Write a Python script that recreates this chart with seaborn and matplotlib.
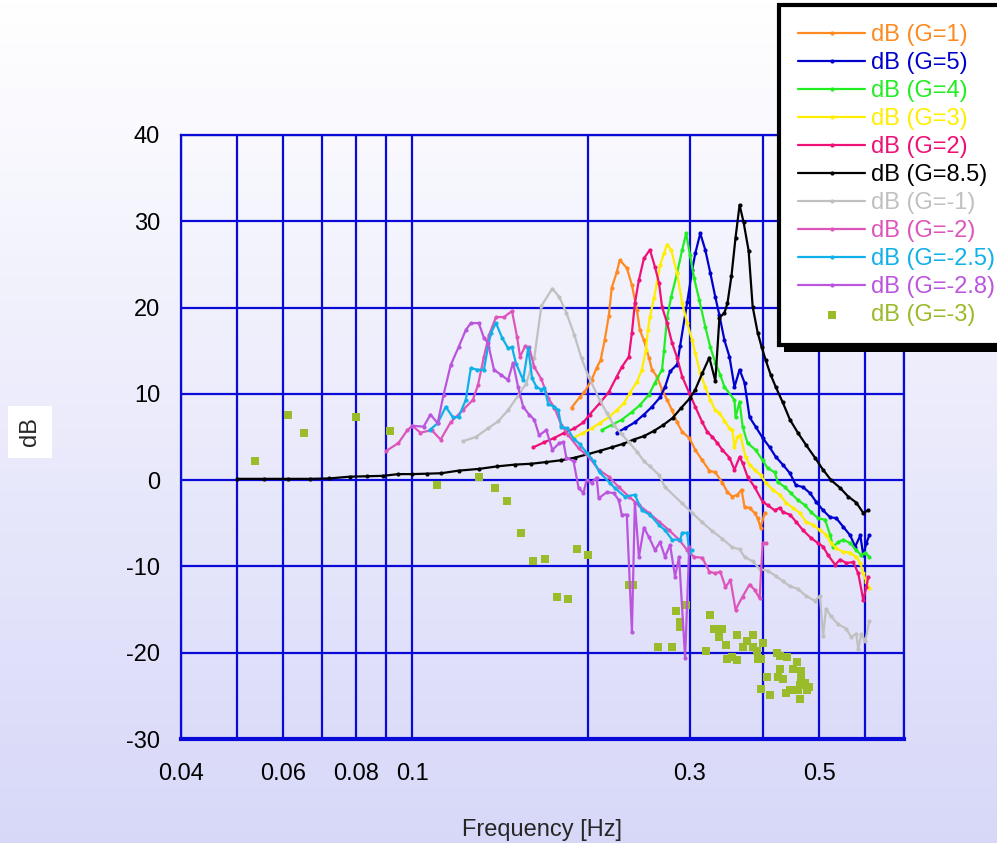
import numpy as np
import matplotlib
matplotlib.use("Agg")
import matplotlib.pyplot as plt
from matplotlib.patches import Rectangle
from matplotlib.ticker import NullLocator, FixedLocator, FixedFormatter
import seaborn as sns

# ---------------- data (frequency in Hz, response in dB) ----------------
f_g1 = [0.1877, 0.1938, 0.1976, 0.2032, 0.2073, 0.2106, 0.2140, 0.2175, 0.2201, 0.2245,
        0.2272, 0.2336, 0.2384, 0.2432, 0.2460, 0.2500, 0.2550, 0.2581, 0.2633, 0.2686,
        0.2740, 0.2795, 0.2851, 0.2909, 0.2991, 0.3064, 0.3150, 0.3239, 0.3317, 0.3411,
        0.3480, 0.3549, 0.3621, 0.3679, 0.3723, 0.3798, 0.3874, 0.3921, 0.3968, 0.4032]
db_g1 = [8.4, 9.6, 10.2, 11.6, 13.0, 13.9, 16.2, 19.0, 22.3, 24.1,
         25.5, 24.6, 22.6, 19.7, 17.4, 16.2, 14.2, 12.8, 12.0, 10.5,
         9.3, 8.1, 6.7, 5.6, 4.9, 3.5, 2.3, 1.1, 0.9, -0.3,
         -1.4, -1.9, -1.7, -1.1, -3.1, -3.2, -3.8, -4.4, -5.5, -3.8]

f_g5 = [0.2245, 0.2317, 0.2412, 0.2500, 0.2581, 0.2665, 0.2718, 0.2773, 0.2851, 0.2886,
        0.2967, 0.3027, 0.3064, 0.3125, 0.3187, 0.3252, 0.3317, 0.3371, 0.3439, 0.3508,
        0.3578, 0.3651, 0.3723, 0.3798, 0.3890, 0.4000, 0.4114, 0.4213, 0.4332, 0.4457,
        0.4563, 0.4692, 0.4825, 0.4942, 0.5081, 0.5224, 0.5352, 0.5502, 0.5657, 0.5771,
        0.5888, 0.5958, 0.6030, 0.6103]
db_g5 = [5.5, 6.0, 6.7, 7.6, 8.5, 9.6, 10.8, 12.6, 13.4, 15.6,
         20.6, 24.4, 26.3, 28.6, 26.7, 24.0, 21.2, 19.1, 16.2, 14.3,
         10.8, 12.8, 11.3, 7.3, 6.2, 4.9, 3.8, 2.7, 1.8, 0.8,
         -0.6, -0.8, -1.5, -2.5, -3.5, -4.3, -4.4, -5.4, -6.4, -7.7,
         -6.4, -8.7, -7.3, -6.4]

f_g4 = [0.2115, 0.2201, 0.2290, 0.2384, 0.2460, 0.2550, 0.2612, 0.2686, 0.2707, 0.2740,
        0.2784, 0.2851, 0.2909, 0.2955, 0.3000, 0.3050, 0.3112, 0.3187, 0.3252, 0.3317,
        0.3383, 0.3439, 0.3578, 0.3593, 0.3651, 0.3695, 0.3768, 0.3890, 0.4000, 0.4080,
        0.4196, 0.4246, 0.4366, 0.4472, 0.4598, 0.4728, 0.4844, 0.4981, 0.5120, 0.5224,
        0.5286, 0.5393, 0.5502, 0.5657, 0.5794, 0.5911, 0.6006, 0.6103]
db_g4 = [5.8, 6.4, 7.0, 7.9, 8.7, 9.9, 11.3, 12.8, 15.0, 18.8,
         21.2, 24.0, 26.7, 28.6, 26.1, 23.4, 20.9, 17.8, 15.4, 13.6,
         12.2, 10.8, 9.3, 7.3, 9.1, 6.2, 4.3, 3.5, 2.3, 1.4,
         0.9, -0.2, -0.8, -1.5, -2.3, -2.9, -3.7, -4.4, -4.6, -6.3,
         -7.7, -7.2, -6.9, -7.3, -8.1, -8.7, -8.4, -8.9]

f_g3 = [0.1892, 0.1968, 0.2032, 0.2098, 0.2175, 0.2245, 0.2308, 0.2364, 0.2432, 0.2480,
        0.2520, 0.2540, 0.2560, 0.2602, 0.2633, 0.2665, 0.2707, 0.2740, 0.2784, 0.2851,
        0.2909, 0.2967, 0.3027, 0.3064, 0.3125, 0.3187, 0.3252, 0.3317, 0.3371, 0.3439,
        0.3508, 0.3549, 0.3578, 0.3621, 0.3664, 0.3738, 0.3798, 0.3874, 0.3968, 0.4048,
        0.4163, 0.4280, 0.4385, 0.4508, 0.4636, 0.4747, 0.4884, 0.5020, 0.5141, 0.5245,
        0.5352, 0.5502, 0.5657, 0.5794, 0.5888, 0.5958, 0.6030, 0.6103]
db_g3 = [4.9, 5.5, 6.0, 6.6, 7.3, 8.1, 8.9, 10.1, 11.4, 12.8,
         15.1, 17.4, 18.9, 21.1, 22.9, 24.9, 26.3, 27.3, 26.7, 24.0,
         20.5, 18.2, 16.2, 14.7, 12.4, 10.8, 9.3, 8.1, 7.8, 6.9,
         6.0, 5.8, 3.8, 5.0, 5.2, 2.7, 1.8, 1.2, 0.6, -0.3,
         -1.1, -1.7, -2.6, -3.2, -3.8, -4.8, -5.2, -5.8, -6.3, -7.3,
         -7.9, -8.3, -8.4, -8.9, -9.6, -10.8, -11.8, -12.5]

f_g2 = [0.1613, 0.1686, 0.1754, 0.1825, 0.1899, 0.1968, 0.2016, 0.2098, 0.2175, 0.2245,
        0.2290, 0.2355, 0.2384, 0.2412, 0.2451, 0.2500, 0.2560, 0.2612, 0.2653, 0.2686,
        0.2740, 0.2795, 0.2851, 0.2909, 0.2991, 0.3064, 0.3150, 0.3213, 0.3278, 0.3344,
        0.3411, 0.3508, 0.3578, 0.3651, 0.3695, 0.3768, 0.3874, 0.4000, 0.4080, 0.4196,
        0.4280, 0.4332, 0.4457, 0.4563, 0.4692, 0.4844, 0.4981, 0.5081, 0.5183, 0.5330,
        0.5436, 0.5568, 0.5725, 0.5841, 0.5958, 0.6030, 0.6077]
db_g2 = [3.8, 4.4, 4.9, 5.5, 6.0, 6.7, 7.6, 8.9, 10.2, 12.0,
         13.1, 14.3, 17.1, 20.5, 23.2, 25.7, 26.7, 24.7, 22.9, 20.1,
         18.2, 15.9, 14.2, 12.0, 10.1, 8.5, 6.7, 5.6, 5.0, 4.3,
         3.5, 2.6, 1.2, 2.7, 2.0, 0.4, -0.8, -2.5, -2.9, -3.5,
         -3.2, -3.7, -4.0, -4.8, -5.8, -6.7, -7.3, -7.7, -8.7, -9.8,
         -9.2, -9.6, -9.5, -10.8, -13.9, -12.4, -11.2]

f_g85 = [0.050, 0.0556, 0.061, 0.0666, 0.072, 0.078, 0.0834, 0.089, 0.0946, 0.100,
         0.106, 0.112, 0.12, 0.13, 0.14, 0.15, 0.16, 0.17, 0.18, 0.19,
         0.20, 0.21, 0.22, 0.23, 0.24, 0.25, 0.26, 0.27, 0.28, 0.29, 0.30,
         0.3064, 0.315, 0.3239, 0.3317, 0.3371, 0.3439, 0.348, 0.3536, 0.3593, 0.3651,
         0.3709, 0.3784, 0.3845, 0.3922, 0.3985, 0.4049, 0.413, 0.4213,
         0.4332, 0.4457, 0.4598, 0.4747, 0.4921, 0.5081, 0.5245, 0.5436, 0.5612, 0.5794, 0.5958, 0.6077]
db_g85 = [0.15, 0.15, 0.15, 0.15, 0.2, 0.4, 0.45, 0.5, 0.7, 0.7,
          0.75, 0.8, 1.1, 1.3, 1.6, 1.8, 1.9, 2.1, 2.3, 2.6,
          3.0, 3.4, 3.8, 4.2, 4.7, 5.1, 5.7, 6.4, 7.2, 8.4, 9.5,
          10.5, 12.4, 14.2, 11.5, 18.8, 19.4, 20.5, 23.7, 28.1, 31.9,
          29.9, 26.6, 20.1, 17.1, 15.4, 13.9, 12.2, 10.8,
          9.0, 7.0, 5.5, 4.1, 2.6, 1.2, 0.0, -0.9, -1.9, -2.6, -3.8, -3.5]

f_gm1 = [0.1220, 0.1285, 0.1348, 0.1403, 0.1460, 0.1519, 0.1569, 0.1620, 0.1666, 0.1740,
         0.1789, 0.1839, 0.1899, 0.1953, 0.2008, 0.2098, 0.2158, 0.2218, 0.2290, 0.2355,
         0.2432, 0.2500, 0.2560, 0.2653, 0.2718, 0.2909, 0.3027, 0.3150, 0.3278, 0.3411,
         0.3549, 0.3651, 0.3723, 0.3845, 0.3953, 0.4080, 0.4213, 0.4332, 0.4457, 0.4598,
         0.4747, 0.4921, 0.5020, 0.5081, 0.5141, 0.5245, 0.5393, 0.5568, 0.5679, 0.5794,
         0.5841, 0.5911, 0.6006, 0.6103]
db_gm1 = [4.5, 5.0, 6.0, 6.8, 8.1, 9.8, 11.2, 14.2, 20.2, 22.2,
          21.2, 19.4, 16.8, 14.1, 12.0, 9.3, 7.8, 6.4, 5.3, 4.4,
          3.3, 2.2, 1.6, 0.6, -0.8, -2.7, -3.8, -4.9, -5.9, -6.8,
          -7.8, -8.0, -8.9, -9.4, -10.3, -10.5, -11.1, -11.7, -12.3, -12.6,
          -13.4, -14.0, -13.4, -18.1, -14.9, -15.8, -16.7, -17.2, -18.2, -17.8,
          -19.6, -17.8, -18.7, -16.3]

f_gm2 = [0.0902, 0.0946, 0.0980, 0.1000, 0.1032, 0.1079, 0.1118, 0.1163, 0.1220, 0.1270,
         0.1296, 0.1327, 0.1354, 0.1392, 0.1437, 0.1483, 0.1513, 0.1531, 0.1562, 0.1587,
         0.1620, 0.1666, 0.1712, 0.1754, 0.1803, 0.1854, 0.1930, 0.2016, 0.2090, 0.2175,
         0.2263, 0.2355, 0.2451, 0.2550, 0.2653, 0.2762, 0.2873, 0.2967, 0.3050, 0.3150,
         0.3239, 0.3317, 0.3383, 0.3452, 0.3522, 0.3593, 0.3695, 0.3798, 0.3874, 0.3953,
         0.4000, 0.4048]
db_gm2 = [3.4, 4.3, 5.8, 6.3, 5.5, 5.8, 4.7, 6.7, 8.1, 9.3,
          11.0, 14.3, 16.8, 18.9, 18.9, 19.6, 16.6, 14.3, 15.5, 15.4,
          13.1, 11.7, 9.5, 8.4, 6.4, 5.2, 3.7, 2.6, 1.2, 0.4,
          -0.8, -1.9, -2.9, -3.8, -4.8, -5.8, -6.9, -8.1, -8.9, -9.0,
          -10.6, -10.8, -10.6, -12.4, -11.6, -15.0, -13.5, -12.1, -12.7, -13.7,
          -7.3, -7.3]

f_gm25 = [0.1070, 0.1105, 0.1141, 0.1173, 0.1200, 0.1235, 0.1260, 0.1290, 0.1327, 0.1348,
          0.1365, 0.1392, 0.1426, 0.1460, 0.1483, 0.1507, 0.1550, 0.1581, 0.1606, 0.1634,
          0.1666, 0.1686, 0.1712, 0.1754, 0.1781, 0.1803, 0.1847, 0.1892, 0.1938, 0.1992,
          0.2048, 0.2098, 0.2183, 0.2227, 0.2317, 0.2412, 0.2480, 0.2560, 0.2653, 0.2718,
          0.2795, 0.2886, 0.2909, 0.2967, 0.2991, 0.3027]
db_gm25 = [5.8, 6.6, 8.5, 7.3, 7.3, 9.3, 13.0, 12.8, 12.8, 15.4,
           17.1, 18.2, 16.5, 15.3, 15.4, 13.5, 11.6, 15.3, 11.8, 10.8,
           10.5, 10.7, 8.8, 8.5, 8.1, 6.2, 6.0, 4.8, 4.2, 3.2,
           2.2, 0.9, -0.3, -0.9, -1.9, -1.7, -3.5, -4.0, -5.2, -5.8,
           -6.9, -6.9, -6.1, -6.1, -8.4, -8.1]

f_gm28 = [0.1000, 0.1045, 0.1074, 0.1105, 0.1131, 0.1163, 0.1200,
          0.1235, 0.1260, 0.1300, 0.1327, 0.1348, 0.1381, 0.1420, 0.1460, 0.1489, 0.1519,
          0.1550, 0.1587, 0.1620, 0.1651, 0.1699, 0.1740, 0.1789, 0.1818, 0.1839, 0.1892,
          0.1930, 0.1968, 0.1992, 0.2032, 0.2073, 0.2090, 0.2158, 0.2218, 0.2263, 0.2290,
          0.2336, 0.2384, 0.2412, 0.2451, 0.2500, 0.2550, 0.2612, 0.2665, 0.2718, 0.2773,
          0.2828, 0.2873, 0.2943, 0.2991]
db_gm28 = [6.3, 6.2, 7.6, 6.6, 9.9, 13.3, 15.4,
           17.4, 18.2, 18.2, 16.5, 15.9, 12.8, 12.2, 11.6, 13.6, 10.8,
           8.5, 7.6, 7.0, 5.2, 5.8, 3.5, 4.3, 4.4, 2.6, 2.2,
           -0.9, -1.5, 0.0, -0.3, 0.3, -2.1, -1.4, -1.5, -2.3, -4.0,
           -4.0, -17.6, -2.6, -8.9, -5.5, -6.6, -8.1, -7.2, -8.9, -7.5,
           -11.2, -8.9, -20.6, -7.7]

f_gm3 = [0.0537, 0.0610, 0.0650, 0.0800, 0.0916, 0.1100, 0.1300, 0.1386, 0.1455, 0.1538,
         0.1613, 0.1692, 0.1775, 0.1854, 0.1922, 0.2000, 0.2355, 0.2392, 0.2643, 0.2795,
         0.2839, 0.2886, 0.2886, 0.2955, 0.3201, 0.3252, 0.3304, 0.3371, 0.3411, 0.3466,
         0.3480, 0.3549, 0.3607, 0.3607, 0.3695, 0.3753, 0.3845, 0.3845, 0.3906, 0.3922,
         0.3968, 0.4000, 0.4064, 0.3968, 0.4114, 0.4230, 0.4280, 0.4280, 0.4246, 0.4332,
         0.4401, 0.4508, 0.4580, 0.4654, 0.4654, 0.4728, 0.4636, 0.4457, 0.4385, 0.4598,
         0.4766, 0.4804, 0.4636]
db_gm3 = [2.2, 7.6, 5.5, 7.3, 5.7, -0.6, 0.4, -0.9, -2.4, -6.1,
          -9.4, -9.1, -13.5, -13.8, -8.0, -8.7, -12.1, -12.1, -19.3, -19.3,
          -15.2, -16.4, -17.0, -14.5, -19.8, -15.6, -17.2, -18.2, -17.2, -19.1,
          -20.7, -20.5, -20.9, -17.9, -19.3, -18.6, -17.9, -19.3, -19.8, -20.7,
          -20.7, -18.9, -22.8, -24.2, -24.9, -20.0, -20.4, -21.9, -22.8, -23.0,
          -20.5, -21.9, -21.1, -22.1, -23.0, -23.5, -23.7, -24.3, -24.7, -24.3,
          -24.3, -24.0, -25.4]

line_labels = ["dB (G=1)", "dB (G=5)", "dB (G=4)", "dB (G=3)", "dB (G=2)", "dB (G=8.5)",
               "dB (G=-1)", "dB (G=-2)", "dB (G=-2.5)", "dB (G=-2.8)"]
scatter_label = "dB (G=-3)"

x_grid = [0.04, 0.05, 0.06, 0.07, 0.08, 0.09, 0.1, 0.2, 0.3, 0.4, 0.5, 0.6, 0.7]
x_ticklabels = ["0.04", "", "0.06", "", "0.08", "", "0.1", "", "0.3", "", "0.5", "", ""]
y_ticks = [-30, -20, -10, 0, 10, 20, 30, 40]

# ---------------- style ----------------
sns.set_style("white")
plt.rcParams['font.family'] = ['Liberation Sans', 'DejaVu Sans']
plt.rcParams['axes.unicode_minus'] = False

line_colors = ["#ff8a20", "#0000cc", "#22ee22", "#ffee00", "#ee1177", "#000000",
               "#c0c0c0", "#dd55bb", "#10b0e8", "#bb55dd"]
scatter_color = "#9abb2a"
grid_blue = "#0a0ad8"
FS = 17

fig = plt.figure(figsize=(9.97, 8.43), dpi=100)

# gradient background
bg = fig.add_axes([0, 0, 1, 1], zorder=-10)
t = np.linspace(0, 1, 256)[:, None, None]
top = np.array([1.0, 1.0, 1.0])
bottom = np.array([0.845, 0.845, 0.975])
img = top + (bottom - top) * t
img = np.repeat(img, 2, axis=1)
bg.imshow(img, aspect='auto', extent=[0, 1, 0, 1], origin='upper')
bg.set_axis_off()

ax = fig.add_axes([181 / 997, 1 - 739 / 843, (904 - 181) / 997, (739 - 135) / 843])
ax.patch.set_alpha(0)

series_x = [f_g1, f_g5, f_g4, f_g3, f_g2, f_g85, f_gm1, f_gm2, f_gm25, f_gm28]
series_y = [db_g1, db_g5, db_g4, db_g3, db_g2, db_g85, db_gm1, db_gm2, db_gm25, db_gm28]

for xs, ys, lab, col in zip(series_x, series_y, line_labels, line_colors):
    sns.lineplot(x=xs, y=ys, ax=ax, color=col, linewidth=1.6, marker='o',
                 markersize=3, markeredgewidth=0, label=lab, sort=False,
                 estimator=None)

sns.scatterplot(x=f_gm3, y=db_gm3, ax=ax, color=scatter_color, marker='s',
                s=28, linewidth=0, label=scatter_label)

ax.set_xscale('log')
ax.set_xlim(0.04, 0.7)
ax.set_ylim(-30, 40)
ax.xaxis.set_major_locator(FixedLocator(x_grid))
ax.xaxis.set_major_formatter(FixedFormatter(x_ticklabels))
ax.xaxis.set_minor_locator(NullLocator())
ax.yaxis.set_major_locator(FixedLocator(y_ticks))
ax.set_axisbelow(True)
ax.grid(True, which='major', color=grid_blue, linewidth=1.6)
ax.tick_params(direction='out', length=6, width=1.5, color=grid_blue,
               labelsize=FS, labelcolor='black')
ax.tick_params(axis='x', pad=11)
ax.tick_params(axis='y', pad=9)
for s in ax.spines.values():
    s.set_color(grid_blue)
    s.set_linewidth(1.6)
ax.spines['bottom'].set_linewidth(3)
ax.set_xlabel('')
ax.set_ylabel('')

if ax.get_legend() is not None:
    ax.get_legend().remove()

handles, labels = ax.get_legend_handles_labels()
leg = fig.legend(handles, labels, loc='upper left',
                 bbox_to_anchor=(779 / 997, 1 - 5 / 843),
                 bbox_transform=fig.transFigure, frameon=True, fancybox=False,
                 framealpha=1, edgecolor='black', facecolor='white', fontsize=FS,
                 handlelength=2.85, handletextpad=0.25,
                 labelspacing=0.255, borderpad=0.8, borderaxespad=0)
leg.get_frame().set_linewidth(3)
for txt, col in zip(leg.get_texts(), line_colors + [scatter_color]):
    txt.set_color(col)

fig.text(542 / 997, 1 - 830 / 843, 'Frequency [Hz]', ha='center', va='center', fontsize=FS)
fig.text(30 / 997, 1 - 432 / 843, 'dB', rotation=90, ha='center', va='center', fontsize=FS,
         bbox=dict(facecolor='white', edgecolor='none', pad=8))

# legend shadow
fig.canvas.draw()
bb = leg.get_window_extent().transformed(fig.transFigure.inverted())
shadow = Rectangle((bb.x0 + 5 / 997, bb.y0 - 7 / 843), bb.width, bb.height,
                   transform=fig.transFigure, facecolor='black', edgecolor='none',
                   zorder=leg.get_zorder() - 0.5)
fig.add_artist(shadow)

fig.savefig('out.png', dpi=100)
